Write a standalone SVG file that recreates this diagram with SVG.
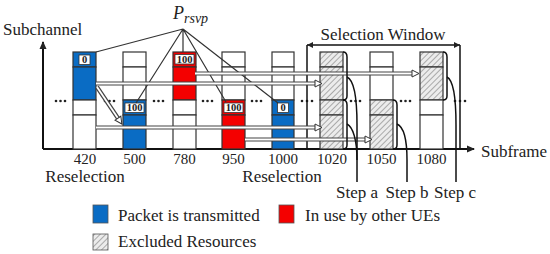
<svg xmlns="http://www.w3.org/2000/svg" width="550" height="254" viewBox="0 0 550 254">
<defs>
<pattern id="hatch" patternUnits="userSpaceOnUse" width="4" height="4" patternTransform="rotate(45)">
<rect width="4" height="4" fill="#ececec"/>
<line x1="0" y1="0" x2="0" y2="4" stroke="#8c8c8c" stroke-width="1.4"/>
</pattern>
<marker id="hollow" markerUnits="userSpaceOnUse" markerWidth="10" markerHeight="10" refX="1" refY="4" orient="auto" overflow="visible">
<path d="M0,0.5 L7,4 L0,7.5 Z" fill="#fff" stroke="#333" stroke-width="1"/>
</marker>
<marker id="solid" markerUnits="userSpaceOnUse" markerWidth="8" markerHeight="8" refX="6" refY="3" orient="auto-start-reverse" overflow="visible">
<path d="M0,0 L6,3 L0,6 Z" fill="#222"/>
</marker>
<marker id="axisHead" markerUnits="userSpaceOnUse" markerWidth="10" markerHeight="10" refX="7" refY="3.5" orient="auto" overflow="visible">
<path d="M0,0 L8,3.5 L0,7 Z" fill="#222"/>
</marker>
</defs>
<style>
text{font-family:"Liberation Serif","Times New Roman",serif;fill:#222}
.lab{font-size:17px}
.num{font-size:15px;text-anchor:middle}
.step{font-size:17px;text-anchor:middle}
.cell{stroke:#333;stroke-width:1.2}
.w{fill:#fff}
.b{fill:#0a6cc4}
.r{fill:#f40000}
.h{fill:url(#hatch)}
.tag{fill:#fff;stroke:#333;stroke-width:0.8}
.tagt{font-size:10.5px;font-weight:bold;text-anchor:middle}
.ptr{stroke:#333;stroke-width:1.2;fill:none}
.dbo{stroke:#444;stroke-width:4.2;fill:none}
.dbi{stroke:#fff;stroke-width:1.8;fill:none}
.brk{stroke:#111;stroke-width:1.5;fill:none}
.dot{fill:#222}
</style>

<g id="axes">
<line x1="43" y1="149" x2="43" y2="42" stroke="#111" stroke-width="2" marker-end="url(#axisHead)"/>
<line x1="43" y1="149" x2="474" y2="149" stroke="#111" stroke-width="2" marker-end="url(#axisHead)"/>
<text class="lab" x="3" y="35">Subchannel</text>
<text class="lab" x="481" y="157">Subframe</text>
</g>

<g id="sf420">
<rect class="cell b" x="73" y="52" width="23" height="15"/>
<rect class="cell b" x="73" y="67" width="23" height="33"/>
<rect class="cell w" x="73" y="100" width="23" height="15"/>
<rect class="cell w" x="73" y="115" width="23" height="34"/>
<rect class="tag" x="79" y="55" width="11" height="9.5"/>
<text class="tagt" x="84.5" y="63">0</text>
<text class="num" x="85" y="164">420</text>
</g>
<g id="sf500">
<rect class="cell w" x="123" y="52" width="23" height="15"/>
<rect class="cell w" x="123" y="67" width="23" height="33"/>
<rect class="cell b" x="123" y="100" width="23" height="15"/>
<rect class="cell b" x="123" y="115" width="23" height="34"/>
<rect class="tag" x="125" y="103" width="19" height="9.5"/>
<text class="tagt" x="134.5" y="111">100</text>
<text class="num" x="134.5" y="164">500</text>
</g>
<g id="sf780">
<rect class="cell r" x="173" y="52" width="23" height="15"/>
<rect class="cell r" x="173" y="67" width="23" height="33"/>
<rect class="cell w" x="173" y="100" width="23" height="15"/>
<rect class="cell w" x="173" y="115" width="23" height="34"/>
<rect class="tag" x="175" y="54.5" width="19" height="9.5"/>
<text class="tagt" x="184.5" y="62.5">100</text>
<text class="num" x="184.5" y="164">780</text>
</g>
<g id="sf950">
<rect class="cell w" x="222" y="52" width="23" height="15"/>
<rect class="cell w" x="222" y="67" width="23" height="33"/>
<rect class="cell r" x="222" y="100" width="23" height="15"/>
<rect class="cell r" x="222" y="115" width="23" height="34"/>
<rect class="tag" x="224" y="103" width="19" height="9.5"/>
<text class="tagt" x="233.5" y="111">100</text>
<text class="num" x="233.5" y="164">950</text>
</g>
<g id="sf1000">
<rect class="cell w" x="272" y="52" width="22" height="15"/>
<rect class="cell w" x="272" y="67" width="22" height="33"/>
<rect class="cell b" x="272" y="100" width="22" height="15"/>
<rect class="cell b" x="272" y="115" width="22" height="34"/>
<rect class="tag" x="277.5" y="103" width="11" height="9.5"/>
<text class="tagt" x="283" y="111">0</text>
<text class="num" x="283" y="164">1000</text>
</g>
<g id="sf1020">
<rect class="cell h" x="320" y="52" width="23" height="15"/>
<rect class="cell h" x="320" y="67" width="23" height="33"/>
<rect class="cell h" x="320" y="100" width="23" height="15"/>
<rect class="cell h" x="320" y="115" width="23" height="34"/>
<text class="num" x="332" y="164">1020</text>
</g>
<g id="sf1050">
<rect class="cell w" x="370" y="52" width="23" height="15"/>
<rect class="cell w" x="370" y="67" width="23" height="33"/>
<rect class="cell h" x="370" y="100" width="23" height="15"/>
<rect class="cell h" x="370" y="115" width="23" height="34"/>
<text class="num" x="381.5" y="164">1050</text>
</g>
<g id="sf1080">
<rect class="cell h" x="420" y="52" width="23" height="15"/>
<rect class="cell h" x="420" y="67" width="23" height="33"/>
<rect class="cell w" x="420" y="100" width="23" height="15"/>
<rect class="cell w" x="420" y="115" width="23" height="34"/>
<text class="num" x="431.5" y="164">1080</text>
</g>

<g id="dots">
<circle class="dot" cx="56" cy="101" r="1.3"/><circle class="dot" cx="60.5" cy="101" r="1.3"/><circle class="dot" cx="65" cy="101" r="1.3"/>
<circle class="dot" cx="105" cy="101" r="1.3"/><circle class="dot" cx="109.5" cy="101" r="1.3"/><circle class="dot" cx="114" cy="101" r="1.3"/>
<circle class="dot" cx="154" cy="101" r="1.3"/><circle class="dot" cx="158.5" cy="101" r="1.3"/><circle class="dot" cx="163" cy="101" r="1.3"/>
<circle class="dot" cx="203" cy="101" r="1.3"/><circle class="dot" cx="207.5" cy="101" r="1.3"/><circle class="dot" cx="212" cy="101" r="1.3"/>
<circle class="dot" cx="252" cy="101" r="1.3"/><circle class="dot" cx="256.5" cy="101" r="1.3"/><circle class="dot" cx="261" cy="101" r="1.3"/>
<circle class="dot" cx="302" cy="101" r="1.3"/><circle class="dot" cx="307" cy="101" r="1.3"/><circle class="dot" cx="312" cy="101" r="1.3"/>
<circle class="dot" cx="351" cy="101" r="1.3"/><circle class="dot" cx="355.5" cy="101" r="1.3"/><circle class="dot" cx="360" cy="101" r="1.3"/>
<circle class="dot" cx="401" cy="101" r="1.3"/><circle class="dot" cx="405.5" cy="101" r="1.3"/><circle class="dot" cx="410" cy="101" r="1.3"/>
<circle class="dot" cx="455" cy="101" r="1.3"/><circle class="dot" cx="460" cy="101" r="1.3"/><circle class="dot" cx="465" cy="101" r="1.3"/>
</g>

<g id="selection-window">
<line x1="307" y1="45" x2="307" y2="149" stroke="#111" stroke-width="1.5"/>
<line x1="460" y1="45" x2="460" y2="149" stroke="#111" stroke-width="1.5"/>
<line x1="307" y1="45" x2="460" y2="45" stroke="#111" stroke-width="1.3" marker-start="url(#solid)" marker-end="url(#solid)"/>
<text class="lab" x="383" y="40" text-anchor="middle">Selection Window</text>
</g>

<g id="prsvp">
<text x="173" y="19" font-size="18" font-style="italic">P<tspan font-size="14" dy="4">rsvp</tspan></text>
</g>

<g id="connectors">
<path class="ptr" d="M183,29 L96,52 M183,29 L136,103 M183,29 L183,52 M183,29 L226,102 M183,29 L278,103"/>
<path class="dbo" d="M195,73.5 H413"/>
<path class="dbi" d="M195,73.5 H413" marker-end="url(#hollow)"/>
<path class="dbo" d="M96,83.5 H316"/>
<path class="dbi" d="M96,83.5 H316" marker-end="url(#hollow)"/>
<path class="dbo" d="M96,127.5 H316"/>
<path class="dbi" d="M96,127.5 H316" marker-end="url(#hollow)"/>
<path class="dbo" d="M245,139.5 H366"/>
<path class="dbi" d="M245,139.5 H366" marker-end="url(#hollow)"/>
<path class="dbo" d="M97,87 L118.5,119"/>
<path class="dbi" d="M97,87 L118.5,119" marker-end="url(#hollow)"/>
<path class="brk" d="M343,52 Q347,52 347,57 L347,96 Q347,100 343,100"/>
<path class="brk" d="M343,100 Q347,100 347,105 L347,145 Q347,149 343,149"/>
<path class="brk" d="M347,77 C354,80 357,96 357,125 L357,182"/>
<path class="brk" d="M347,124 C353,127 357,140 357,160"/>
<path class="brk" d="M393,100 Q397,100 397,105 L397,145 Q397,149 393,149"/>
<path class="brk" d="M397,124 C404,127 407,140 407,160 L407,182"/>
<path class="brk" d="M443,52 Q447,52 447,57 L447,96 Q447,100 443,100"/>
<path class="brk" d="M447,77 C453,80 456,96 456,125 L456,182"/>
</g>

<g id="labels">
<text class="lab" x="85" y="182" text-anchor="middle">Reselection</text>
<text class="lab" x="282" y="182" text-anchor="middle">Reselection</text>
<text class="step" x="357" y="198">Step a</text>
<text class="step" x="407" y="198">Step b</text>
<text class="step" x="455" y="198">Step c</text>
</g>

<g id="legend">
<rect x="93" y="205" width="15" height="18" fill="#0a6cc4" stroke="#555" stroke-width="0.8"/>
<text class="lab" x="118" y="221">Packet is transmitted</text>
<rect x="279" y="205" width="15" height="18" fill="#f40000" stroke="#555" stroke-width="0.8"/>
<text class="lab" x="305" y="221">In use by other UEs</text>
<rect x="93" y="234" width="15" height="16" fill="url(#hatch)" stroke="#555" stroke-width="0.8"/>
<text class="lab" x="118" y="247">Excluded Resources</text>
</g>
</svg>
